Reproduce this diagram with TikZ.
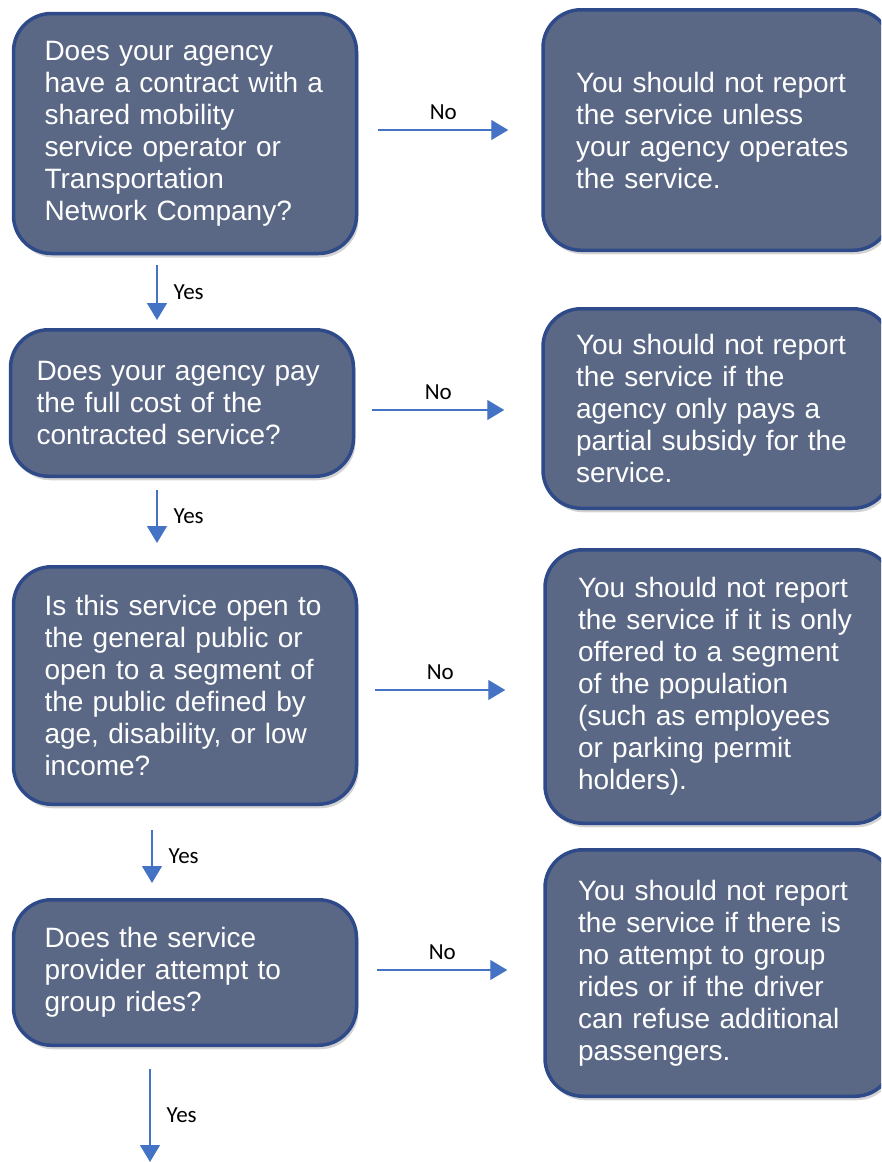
\documentclass[tikz,border=0pt]{standalone}
\usepackage{xcolor}
\usepackage{tikz}
\usepackage{fontspec}
\setmainfont{Liberation Sans}
\newfontfamily\labelfont{Carlito}
\usetikzlibrary{shapes.geometric, arrows.meta, positioning, shadows, calc}
\definecolor{boxfill}{HTML}{5A6885}
\definecolor{boxline}{HTML}{2F4A88}
\definecolor{arrowblue}{HTML}{4472C4}

\begin{document}
\begin{tikzpicture}[x=1pt, y=-1pt]
    \tikzstyle{question} = [rectangle, draw=boxline, line width=3.5pt, fill=boxfill, rounded corners=38pt, text=white, text width=281pt, align=left, inner xsep=31pt, minimum width=343pt, font=\fontsize{28}{32}\selectfont, drop shadow={shadow xshift=2pt, shadow yshift=-4pt, opacity=0.35}]
    \tikzstyle{answer} = [question, text width=282pt, inner xsep=33pt, minimum width=348pt]
    \tikzstyle{flow} = [-{Triangle[length=17pt, width=20pt]}, draw=arrowblue, line width=1.4pt]
    \tikzstyle{choice} = [font=\labelfont\fontsize{23}{26}\selectfont, text=black, inner sep=2pt]

    \useasboundingbox (0,0) rectangle (881,1162);
    \clip (0,0) rectangle (881,1162);

    \node (contract) [question, minimum height=240pt] at (185,133.5) {Does your agency\\have a contract with a\\shared mobility\\service operator or\\Transportation\\Network Company?};
    \node (unless) [answer, minimum height=240.5pt] at (717,130) {You should not report\\the service unless\\your agency operates\\the service.};
    \node (fullcost) [question, text width=291pt, inner xsep=26pt, minimum height=146.5pt] at (182,403) {Does your agency pay\\the full cost of the\\contracted service?};
    \node (subsidy) [answer, minimum height=199.5pt] at (717,408.5) {You should not report\\the service if the\\agency only pays a\\partial subsidy for the\\service.};
    \node (public) [question, minimum height=237.5pt] at (185,685.5) {Is this service open to\\the general public or\\open to a segment of\\the public defined by\\age, disability, or low\\income?};
    \node (segment) [answer, minimum height=273.5pt] at (719,686.5) {You should not report\\the service if it is only\\offered to a segment\\of the population\\(such as employees\\or parking permit\\holders).};
    \node (grouping) [question, minimum height=145.5pt] at (185,972.5) {Does the service\\provider attempt to\\group rides?};
    \node (refuse) [answer, minimum height=246.5pt] at (719,973) {You should not report\\the service if there is\\no attempt to group\\rides or if the driver\\can refuse additional\\passengers.};
    \coordinate (exit) at (150,1162);

    % yes branch
    \draw [flow] ($(contract.south)+(-28,9.5)$) -- ($(contract.south |- fullcost.north)+(-28,-8)$) node [choice, midway, right=14pt] {Yes};
    \draw [flow] ($(fullcost.south)+(-25,12)$) -- ($(fullcost.south |- public.north)+(-25,-22)$) node [choice, midway, right=14pt] {Yes};
    \draw [flow] ($(public.south)+(-33,24)$) -- ($(public.south |- grouping.north)+(-33,-15)$) node [choice, midway, right=14pt] {Yes};
    \draw [flow] ($(grouping.south)+(-35,22)$) -- (exit) node [choice, midway, right=14pt] {Yes};

    % no branch
    \draw [flow] ($(contract.east)+(20,-3.5)$) -- ($(contract.east -| unless.west)+(-33,-3.5)$) node [choice, midway, above=8pt] {No};
    \draw [flow] ($(fullcost.east)+(17,7)$) -- ($(fullcost.east -| subsidy.west)+(-37,7)$) node [choice, midway, above=8pt] {No};
    \draw [flow] ($(public.east)+(17,4.5)$) -- ($(public.east -| segment.west)+(-38,4.5)$) node [choice, midway, above=8pt] {No};
    \draw [flow] ($(grouping.east)+(19,-2.5)$) -- ($(grouping.east -| refuse.west)+(-36,-2.5)$) node [choice, midway, above=8pt] {No};
\end{tikzpicture}
\end{document}
